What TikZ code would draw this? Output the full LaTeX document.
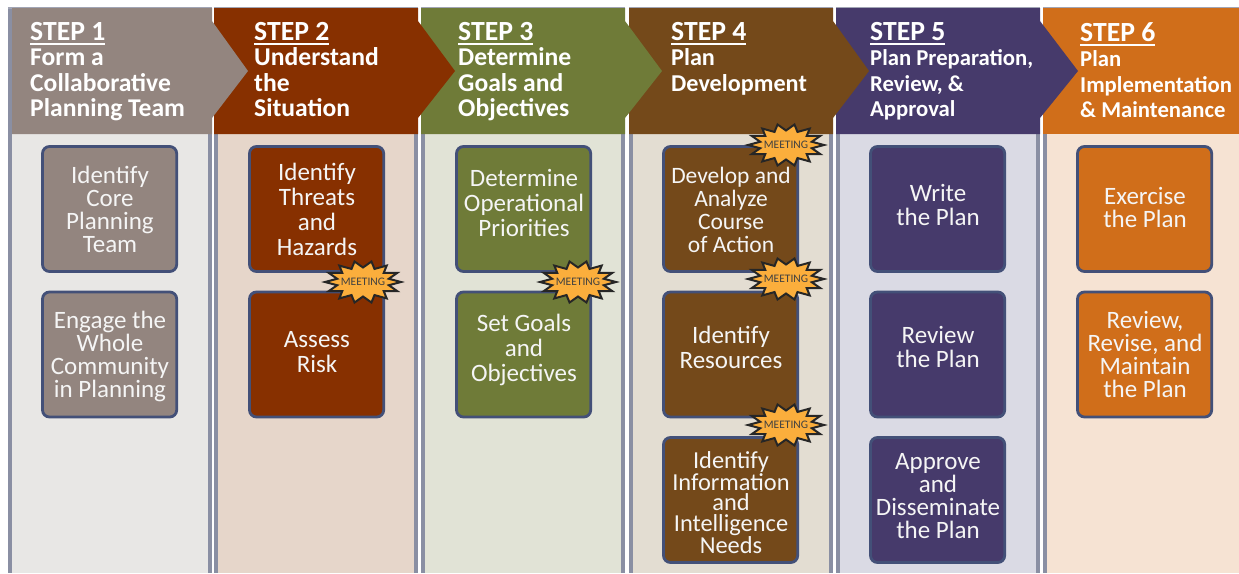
\documentclass[tikz,border=0pt]{standalone}
\usepackage{fontspec}
\setmainfont{Carlito}
\newcommand\stepul[1]{\setbox0\hbox{#1}\rlap{\rule[-4.5pt]{\wd0}{1.8pt}}\box0}
\definecolor{barc}{HTML}{8A8FA3}
\definecolor{edgec}{HTML}{435078}
\definecolor{ca}{HTML}{93857F}\definecolor{cab}{HTML}{E8E7E5}
\definecolor{cb}{HTML}{873000}\definecolor{cbb}{HTML}{E6D6CA}
\definecolor{cc}{HTML}{6F7B38}\definecolor{ccb}{HTML}{E1E3D6}
\definecolor{cd}{HTML}{74491A}\definecolor{cdb}{HTML}{E3DDD2}
\definecolor{ce}{HTML}{463A6B}\definecolor{ceb}{HTML}{DADAE4}
\definecolor{cf}{HTML}{D06E1A}\definecolor{cfb}{HTML}{F6E3D3}
\definecolor{burstc}{HTML}{FBAE3C}
\tikzset{
  taskbox/.style={draw=edgec,line width=2.8pt,rounded corners=7pt,minimum width=134.2pt,minimum height=125pt,inner sep=0pt,xshift=-0.4pt},
  tasktext/.style={inner sep=0pt,align=center,text=white!96!black},
  headtext/.style={anchor=north west,inner sep=0pt,align=left,text=white,font=\bfseries\fontsize{25.6}{25.5}\selectfont},
  headsmall/.style={headtext,font=\bfseries\fontsize{22.7}{25.5}\selectfont},
  headmid/.style={headtext,font=\bfseries\fontsize{24.2}{25.5}\selectfont},
  bursttext/.style={inner sep=0pt,text=black!75,font=\fontsize{11.5}{12}\selectfont}
}
\newcommand\column[5]{%
  \fill[#4] (#1,8) rectangle (#2,573);
  \fill[barc] (#1,8) rectangle (#1+4,573);
  \fill[barc] (#2-4.5,8) rectangle (#2,573);
  \fill[barc!80] (#1,7) rectangle (#2,8.5);
}
\newcommand\headshape[5]{%
  \fill[#3] (#1,8) -- (#2,8) -- (#2,21) -- (#5,71) -- (#2,118) -- (#2,134) -- (#1,134) -- cycle;
}
% #1 name, #2 x, #3 box y, #4 colour, #5 text y, #6 size, #7 leading, then text
\newcommand\task[8]{%
  \node[taskbox,fill=#4] (#1) at (#2,#3) {};
  \node[tasktext,font=\fontsize{#6}{#7}\selectfont] (#1t) at (#2,#5) {#8};
}
\newcommand\burst[3]{%
  \draw[fill=burstc,draw=black!85,line width=2pt,miter limit=4,line join=miter]
    plot[samples at={0,...,27},variable=\k] ({#2+(mod(\k,2)==0?38:26.5)*cos(\k*360/28)},{#3+(mod(\k,2)==0?21:14.5)*sin(\k*360/28)}) -- cycle;
  \node[bursttext] (#1) at (#2,#3) {MEETING};
}
\newcommand\steptitle[1]{\fontsize{27.7}{27}\selectfont\stepul{STEP #1}}
\begin{document}
\begin{tikzpicture}[x=1pt,y=-1pt]
\useasboundingbox (0,0) rectangle (1239,573);
\fill[white] (0,0) rectangle (1239,573);
\column{8}{212}{ca}{cab}{248}
\column{214}{418}{cb}{cbb}{455}
\column{421}{625}{cc}{ccb}{662}
\column{629}{833}{cd}{cdb}{869}
\column{836}{1040}{ce}{ceb}{1078}
\fill[cfb] (1043,8) rectangle (1239,573);
\fill[barc] (1043,8) rectangle (1047,573);
\fill[barc!80] (1043,7) rectangle (1239,8.5);
\fill[cf] (1043,8) rectangle (1239,134);
\headshape{836}{1040}{ce}{ceb}{1078}
\headshape{629}{833}{cd}{cdb}{869}
\headshape{421}{625}{cc}{ccb}{662}
\headshape{214}{418}{cb}{cbb}{455}
\headshape{12}{212}{ca}{cab}{248}

\node[headtext] (h1) at (30,22) {\steptitle{1}\\Form a\\Collaborative\\Planning Team};
\node[headtext] (h2) at (254,22) {\steptitle{2}\\Understand\\the\\Situation};
\node[headtext] (h3) at (458,22) {\steptitle{3}\\Determine\\Goals and\\Objectives};
\node[headmid] (h4) at (671,22) {\steptitle{4}\\Plan\\Development};
\node[headsmall] (h5) at (870,22) {\steptitle{5}\\Plan Preparation,\\Review, \&\\Approval};
\node[headsmall] (h6) at (1080,22) {\steptitle{6}\\Plan\\Implementation\\\& Maintenance};

\task{a1}{110}{209}{ca}{209.5}{25}{23}{Identify\\Core\\Planning\\Team}
\task{a2}{110}{354.5}{ca}{356}{25}{23}{Engage the\\Whole\\Community\\in Planning}
\task{b1}{317}{209}{cb}{209.5}{25}{25}{Identify\\Threats\\and\\Hazards}
\task{b2}{317}{354.5}{cb}{352.5}{25}{25}{Assess\\Risk}
\task{c1}{524}{209}{cc}{203}{25}{25}{Determine\\Operational\\Priorities}
\task{c2}{524}{354.5}{cc}{349.5}{25}{25}{Set Goals\\and\\Objectives}
\task{d1}{731}{209}{cd}{209.5}{23.5}{23}{Develop and\\Analyze\\Course\\of Action}
\task{d2}{731}{354.5}{cd}{347}{25}{25}{Identify\\Resources}
\task{d3}{731}{500}{cd}{502.5}{24.4}{20.7}{Identify\\Information\\and\\Intelligence\\Needs}
\task{e1}{938}{209}{ce}{204.5}{25}{24}{Write\\the Plan}
\task{e2}{938}{354.5}{ce}{347}{25}{24}{Review\\the Plan}
\task{e3}{938}{500}{ce}{496}{25}{23}{Approve\\and\\Disseminate\\the Plan}
\task{f1}{1145}{209}{cf}{207}{25}{23}{Exercise\\the Plan}
\task{f2}{1145}{354.5}{cf}{354.5}{25}{23}{Review,\\Revise, and\\Maintain\\the Plan}

\burst{m1}{363}{282}
\burst{m2}{578}{282}
\burst{m3}{786}{145}
\burst{m4}{786}{279}
\burst{m5}{786}{425}
\end{tikzpicture}
\end{document}
